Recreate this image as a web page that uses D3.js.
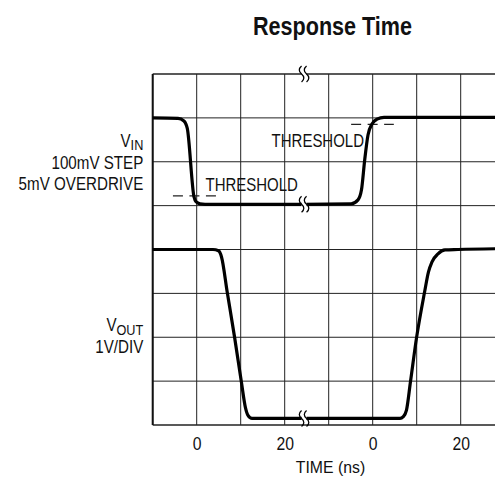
<!DOCTYPE html>
<html>
<meta charset="UTF-8">
<head>
<style>
  body { margin: 0; background: #fff; }
  text { font-family: "Liberation Sans", Arial, sans-serif; fill: #111; }
</style>
<script src="https://d3js.org/d3.v7.min.js"></script>
</head>
<body>
<div id="chart"></div>
<script>
// time in ns on one continuous axis (second panel is shifted by 40 ns), level in grid divisions
var tickValues = [0, 20, 40, 60];
var tickLabels = ["0", "20", "0", "20"];
var gridTimes = [-10, 0, 10, 20, 30, 40, 50, 60, 70];
var gridDivs = [0, 1, 2, 3, 4, 5, 6, 7, 8];
var breakTime = 24.4;

var vinBefore = [[-10, 7.0], [-4.25, 6.99], [-2.9, 6.93], [-2.14, 6.76], [-0.61, 5.2], [-0.16, 5.09], [0.75, 5.04], [1.9, 5.03], [24.4, 5.03]];
var vinAfter = [[24.4, 5.03], [35.1, 5.04], [36.66, 5.13], [37.45, 5.36], [38.18, 6.04], [38.93, 6.61], [39.84, 6.86], [40.98, 6.97], [42.57, 7.01], [70, 7.01]];
var voutBefore = [[-10, 4.0], [3.7, 4.0], [4.95, 3.97], [5.64, 3.83], [6.95, 3.02], [8.64, 1.98], [10.14, 0.99], [11.09, 0.39], [11.66, 0.22], [12.57, 0.15], [24.4, 0.15]];
var voutAfter = [[24.4, 0.15], [46.2, 0.15], [46.95, 0.19], [47.68, 0.34], [48.59, 0.99], [49.95, 1.98], [51.77, 3.02], [52.68, 3.49], [53.48, 3.72], [54.84, 3.9], [56.43, 3.99], [59.39, 4.0], [70, 4.02]];

// threshold markers: [t start, t end, level]
var thresholds = [[-5.4, 4.45, 5.22], [35.1, 44.8, 6.85]];
var breakLevels = [5.03, 0.15, 8];

var width = 495, height = 478;
var svg = d3.select("#chart").append("svg")
  .attr("width", width)
  .attr("height", height);

var x = d3.scaleLinear().domain([-10, 70]).range([152.7, 504.7]);
var y = d3.scaleLinear().domain([0, 8]).range([425, 74]);

// grid
svg.append("g").selectAll("line")
  .data(gridTimes)
  .enter().append("line")
  .attr("x1", d => x(d)).attr("x2", d => x(d))
  .attr("y1", y(0)).attr("y2", y(8))
  .attr("stroke", "#222").attr("stroke-width", 1);

svg.append("g").selectAll("line")
  .data(gridDivs)
  .enter().append("line")
  .attr("x1", x(-10)).attr("x2", x(70))
  .attr("y1", d => y(d)).attr("y2", d => y(d))
  .attr("stroke", "#222").attr("stroke-width", d => (d == 0 || d == 8) ? 1.5 : 1);

// left frame edge
svg.append("line")
  .attr("x1", x(-10)).attr("x2", x(-10))
  .attr("y1", y(0)).attr("y2", y(8))
  .attr("stroke", "#111").attr("stroke-width", 2);

// threshold dashes
svg.append("g").selectAll("line")
  .data(thresholds)
  .enter().append("line")
  .attr("x1", d => x(d[0])).attr("x2", d => x(d[1]))
  .attr("y1", d => y(d[2])).attr("y2", d => y(d[2]))
  .attr("stroke", "#222").attr("stroke-width", 1.2)
  .attr("stroke-dasharray", "10,6.5");

// traces
var line = d3.line()
  .x(d => x(d[0]))
  .y(d => y(d[1]))
  .curve(d3.curveMonotoneX);

[vinBefore, vinAfter, voutBefore, voutAfter].forEach(function (seg) {
  svg.append("path")
    .datum(seg)
    .attr("d", line)
    .attr("fill", "none")
    .attr("stroke", "#000")
    .attr("stroke-width", 3.2)
    .attr("stroke-linejoin", "round");
});

// break marks
breakLevels.forEach(function (lv) {
  var bx = x(breakTime), by = y(lv);
  svg.append("rect")
    .attr("x", bx - 2.5).attr("y", by - 3)
    .attr("width", 5).attr("height", 6)
    .attr("fill", "#fff");
  [-2.5, 2.5].forEach(function (off) {
    var cx = bx + off;
    svg.append("path")
      .attr("d", "M" + cx + "," + (by - 8) + " c -3,2.5 -3,5.5 0,8 c 3,2.5 3,5.5 0,8")
      .attr("fill", "none")
      .attr("stroke", "#000")
      .attr("stroke-width", 1.3);
  });
});

// x axis labels
var xAxis = d3.axisBottom(x)
  .tickValues(tickValues)
  .tickFormat((d, i) => tickLabels[i])
  .tickSize(0)
  .tickPadding(13);

var ax = svg.append("g")
  .attr("transform", "translate(0," + y(0) + ")")
  .call(xAxis);
ax.select(".domain").remove();
ax.selectAll("text")
  .attr("font-size", 17.5)
  .attr("font-family", "Liberation Sans, Arial, sans-serif")
  .attr("fill", "#111")
  .attr("transform", "scale(0.9,1)");

// condensed text helper
function label(px, py, anchor, size, sx) {
  return svg.append("text")
    .attr("transform", "translate(" + px + "," + py + ") scale(" + sx + ",1)")
    .attr("text-anchor", anchor)
    .attr("font-size", size);
}

label(332.5, 35, "middle", 26, 0.83)
  .attr("font-weight", "bold")
  .text("Response Time");

label(330.5, 473, "middle", 17, 0.93).text("TIME (ns)");

var vin = label(143.3, 146.7, "end", 18.5, 0.82);
vin.append("tspan").text("V");
vin.append("tspan").attr("dy", 3.5).attr("font-size", 15.5).text("IN");
label(143.3, 169.3, "end", 18.5, 0.82).text("100mV STEP");
label(143.3, 190, "end", 18.5, 0.82).text("5mV OVERDRIVE");

var vout = label(143.3, 331, "end", 18.5, 0.82);
vout.append("tspan").text("V");
vout.append("tspan").attr("dy", 3.5).attr("font-size", 15.5).text("OUT");
label(143.3, 352.5, "end", 18.5, 0.82).text("1V/DIV");

label(205.5, 190.7, "start", 18.5, 0.81).text("THRESHOLD");
label(364, 147.3, "end", 18.5, 0.81).text("THRESHOLD");
</script>
</body>
</html>
